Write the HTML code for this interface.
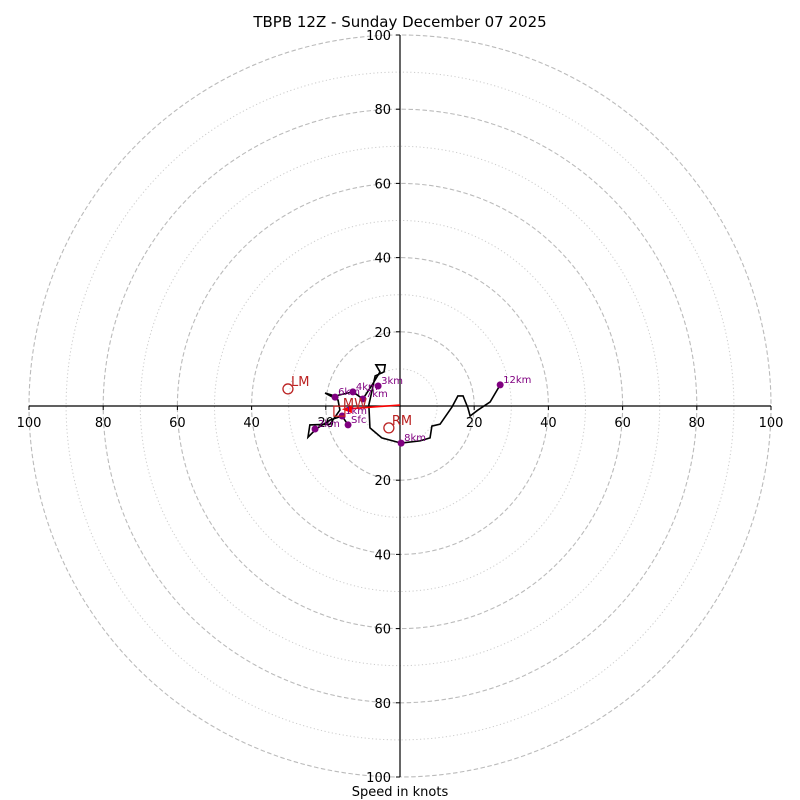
<!DOCTYPE html>
<html><head><meta charset="utf-8"><style>
body{margin:0;background:#fff}
svg{display:block;font-family:"DejaVu Sans","Liberation Sans",sans-serif}
</style></head><body>
<svg id="c" width="800" height="800" viewBox="0 0 800 800">
<text x="400" y="27" text-anchor="middle" font-size="15">TBPB 12Z - Sunday December 07 2025</text>
<text x="400" y="796" text-anchor="middle" font-size="13">Speed in knots</text>
<g id="g"></g>
</svg>
<script>
const ringVals=[10,20,30,40,50,60,70,80,90,100];
const tickVals=[20,40,60,80,100];
const hodoU=[-14.0,-15.6,-18.9,-22.6,-24.8,-24.3,-18.9,-16.2,-16.7,-20.2,-17.5,-12.7,-10.0,-7.5,-5.4,-6.5,-4.0,-4.3,-6.7,-7.5,-8.4,-8.1,-4.9,0.3,5.4,8.1,8.6,10.8,14.0,15.6,17.0,18.3,18.9,21.0,24.3,27.0];
const hodoV=[-5.1,-2.7,-3.8,-6.2,-8.4,-5.1,-4.9,-1.1,1.6,3.5,2.7,3.8,1.9,5.7,9.2,11.1,11.1,9.2,8.1,4.3,0.3,-5.9,-8.6,-10.0,-9.4,-8.6,-5.4,-4.9,-0.3,2.7,2.7,-0.5,-2.7,-1.1,1.1,5.7];
const lvlNames=["Sfc","1km","2km","3km","4km","6km","7km","8km","12km"];
const lvlU=[-14.0,-15.6,-22.9,-5.9,-12.7,-17.5,-10.0,0.3,27.0];
const lvlV=[-5.1,-2.7,-6.2,5.4,3.8,2.4,1.9,-10.0,5.7];
const motionNames=["RM","LM","MW"];
const motionU=[-3.0,-30.2,-16.2];
const motionV=[-5.9,4.6,-1.4];
const cx=400,cy=406,R=371;
const sx=u=>cx+u*R/100, sy=v=>cy-v*R/100;
const g=document.getElementById('g');
const NS='http://www.w3.org/2000/svg';
function mk(t,a){const e=document.createElementNS(NS,t);for(const k in a)e.setAttribute(k,a[k]);g.appendChild(e);return e;}
ringVals.forEach(r=>{const major=r%20===0;
 const e=mk('circle',{cx:cx,cy:cy,r:r*R/100,fill:'none',stroke:major?'#bbb':'#ccc','stroke-width':major?1.1:1,'stroke-dasharray':major?'4.5,2.5':'1.2,2.5'});
 
 });
let ax=mk('line',{x1:sx(-100),y1:cy,x2:sx(100),y2:cy,stroke:'#000','stroke-width':1.2});


ax=mk('line',{x1:cx,y1:sy(100),x2:cx,y2:sy(-100),stroke:'#000','stroke-width':1.2});


tickVals.forEach(t=>{[t,-t].forEach(s=>{
 let e=mk('text',{x:sx(s),y:cy+21,'text-anchor':'middle','font-size':13});e.textContent=t;
 
 
 mk('line',{x1:sx(s),y1:cy,x2:sx(s),y2:cy+4,stroke:'#000'});
 e=mk('text',{x:cx-9,y:sy(s)+5,'text-anchor':'end','font-size':13});e.textContent=t;
 
 
 mk('line',{x1:cx-4,y1:sy(s),x2:cx,y2:sy(s),stroke:'#000'});
});});
let p=mk('polyline',{points:hodoU.map((u,i)=>sx(u)+','+sy(hodoV[i])).join(' '),fill:'none',stroke:'#000','stroke-width':1.6});


// mean wind arrow
let ar=mk('line',{x1:cx,y1:cy-1,x2:sx(motionU[2])+4,y2:sy(motionV[2])-2,stroke:'red','stroke-width':1.6});


mk('polygon',{points:`${sx(motionU[2])+2},${sy(motionV[2])-2} ${sx(motionU[2])+12},${sy(motionV[2])-6} ${sx(motionU[2])+12},${sy(motionV[2])+2}`,fill:'red'});
lvlNames.forEach((n,i)=>{
 let c=mk('circle',{cx:sx(lvlU[i]),cy:sy(lvlV[i]),r:3.5,fill:'purple'});
 
 
 let t=mk('text',{x:sx(lvlU[i])+3,y:sy(lvlV[i])-2,'font-size':10,fill:'purple'});t.textContent=n;
 
 
});
motionNames.forEach((n,i)=>{
 let x=sx(motionU[i]),y=sy(motionV[i]);
 let m=n==='MW'?mk('rect',{x:x-6,y:y-5,width:11,height:10,fill:'none',stroke:'#c22','stroke-width':1.2}):mk('circle',{cx:x,cy:y,r:5,fill:'none',stroke:'#b22','stroke-width':1.3});
 
 
 let t=mk('text',{x:x+3,y:y-3,'font-size':13,fill:'#b22'});t.textContent=n;
 
 
});
</script>
</body></html>
